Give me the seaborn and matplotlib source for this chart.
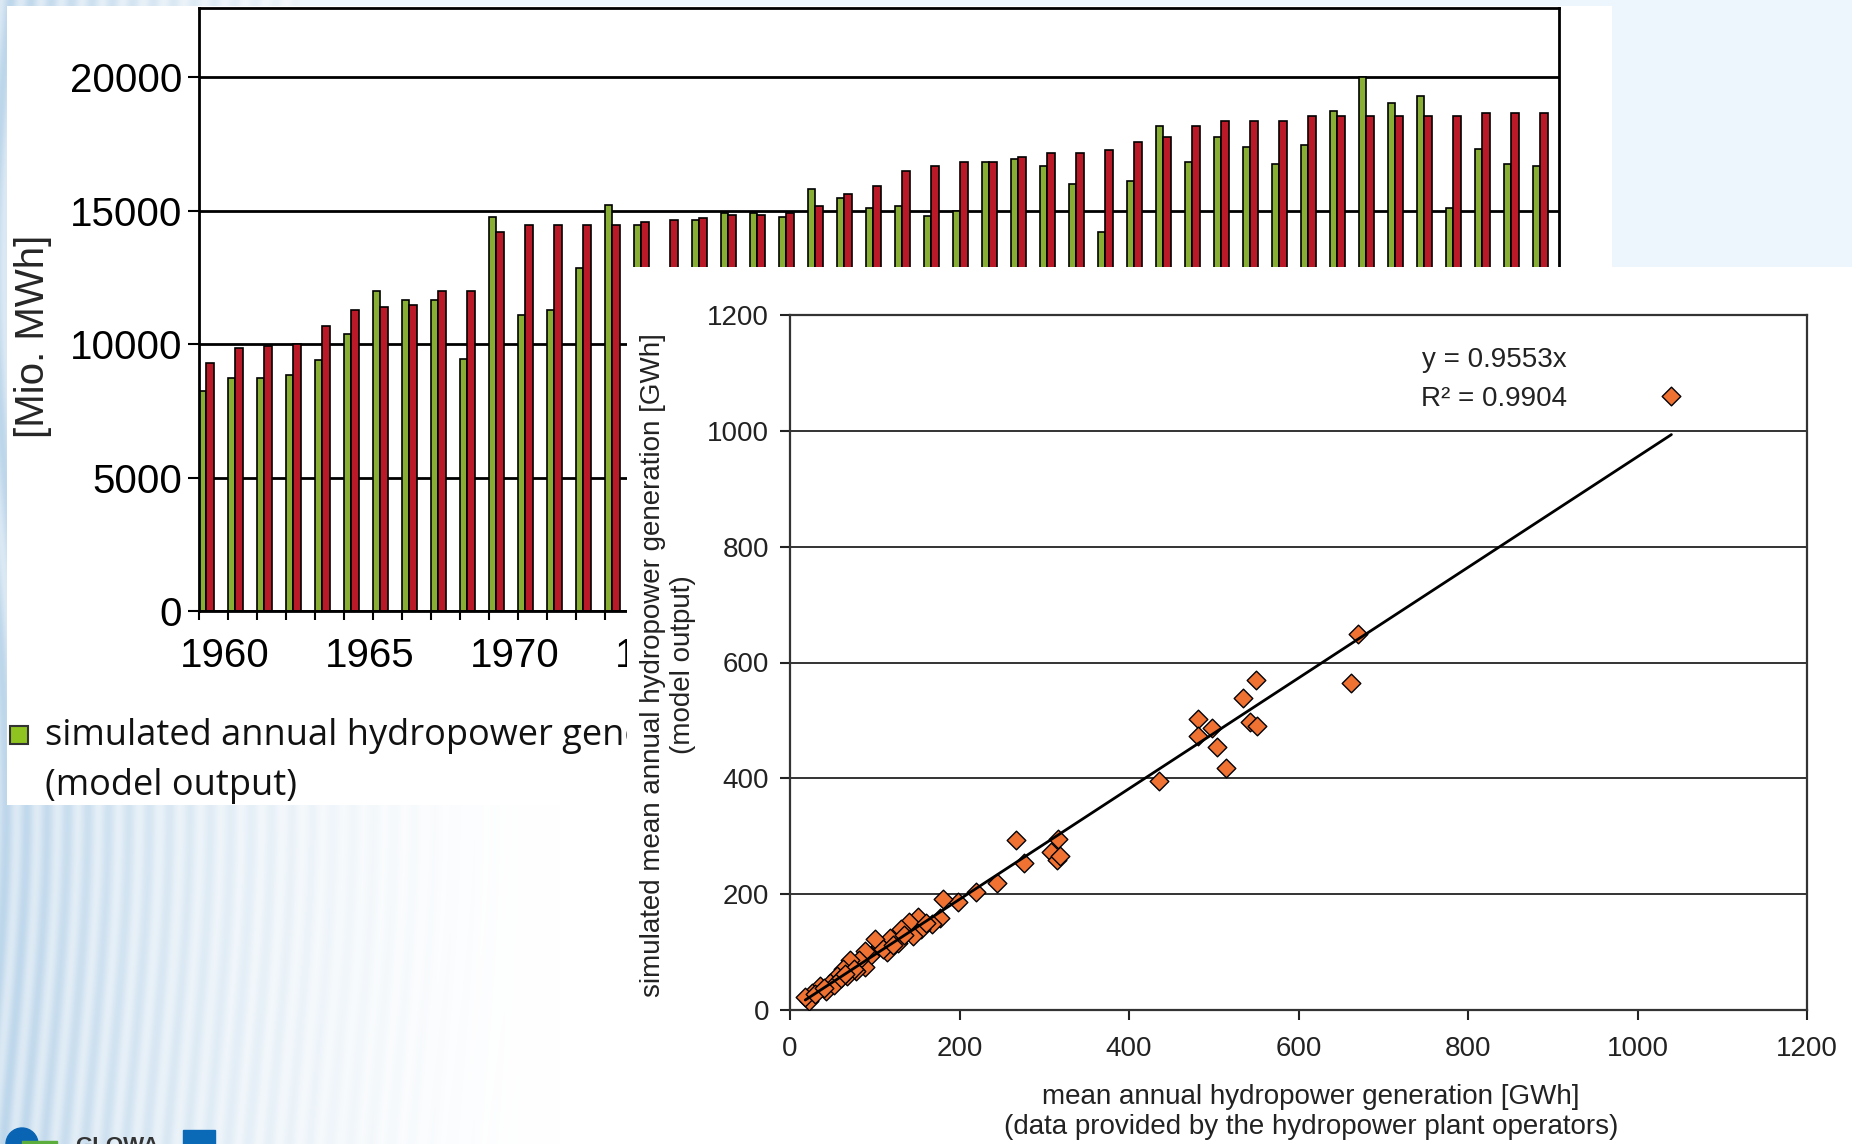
import numpy as np
import pandas as pd
import matplotlib
matplotlib.use("Agg")
import matplotlib.pyplot as plt
import matplotlib.transforms as mtransforms
import seaborn as sns
from matplotlib.patches import Rectangle, Circle

# ---------------- data ----------------
years = list(range(1959, 2006))
simulated_gen = [8250, 8750, 8750, 8850, 9400, 10400, 12000, 11650, 11650, 9450,
                 14750, 11100, 11300, 12850, 15200, 14480, np.nan, 14650, 14900, 14900,
                 14750, 15820, 15480, 15100, 15180, 14820, 15000, 16820, 16930, 16670,
                 16020, 14190, 16120, 18190, 16820, 17750, 17380, 16750, 17480, 18740,
                 20000, 19030, 19290, 15120, 17300, 16750, 16680]
observed_gen = [9300, 9850, 9950, 10000, 10670, 11300, 11380, 11460, 12000, 12000,
                14200, 14470, 14470, 14470, 14470, 14570, 14640, 14740, 14830, 14830,
                14920, 15180, 15640, 15930, 16480, 16670, 16820, 16820, 17010, 17180,
                17180, 17290, 17560, 17750, 18190, 18380, 18380, 18380, 18560, 18560,
                18560, 18560, 18560, 18560, 18660, 18660, 18660]
series_names = ["simulated", "observed"]
series_colors = ["#8fc31f", "#d40012"]
bar_yticks = [0, 5000, 10000, 15000, 20000]
bar_xlabels = [1960, 1965, 1970, 1975]
legend_lines = ["simulated annual hydropower generation", "(model output)"]

plant_observed = [1040, 670, 662, 550, 535, 482, 498, 482, 543, 551, 504, 515, 435,
                  267, 316, 308, 315, 319,
                  276, 244, 219, 198, 180, 177, 168, 151, 155, 145, 140, 131, 127, 118,
                  114, 106, 100, 94, 89, 88, 82, 78, 71, 67, 63, 55, 47, 43, 35, 26, 22, 18,
                  30, 52, 60, 75, 110, 122, 135, 160, 40, 65]
plant_simulated = [1060, 650, 565, 570, 539, 502, 487, 473, 498, 490, 454, 418, 395,
                   293, 296, 273, 259, 266,
                   254, 219, 203, 187, 191, 158, 148, 160, 139, 128, 152, 139, 116, 125,
                   100, 110, 123, 93, 102, 75, 87, 67, 87, 58, 70, 58, 46, 32, 41, 29, 15, 23,
                   28, 44, 55, 70, 105, 112, 130, 150, 38, 62]
trend_slope = 0.9553
r_squared = 0.9904
scatter_ticks = [0, 200, 400, 600, 800, 1000, 1200]

# ---------------- setup ----------------
sns.set_style("white")
plt.rcParams["font.family"] = ["Liberation Sans", "DejaVu Sans"]

W, H = 1852, 1144
fig = plt.figure(figsize=(W / 100, H / 100), dpi=100)

# background
bg = fig.add_axes([0, 0, 1, 1])
bg.set_zorder(0)
xs = np.arange(W)[None, :]
ys = np.arange(H)[:, None]
fade = np.clip(1 - xs / 560.0, 0, 1) ** 1.6
streak = 0.55 + 0.45 * np.sin(xs / 6.5 + 2.5 * np.sin(ys / 170.0)) ** 2
amt = fade * streak
blue = np.array([0.74, 0.84, 0.92])
img = 1 - amt[..., None] * (1 - blue)
light = np.array([0.933, 0.965, 0.996])
img[:6, 300:] = light
img[:267, 1612:] = light
bg.imshow(img, extent=[0, W, H, 0], aspect="auto", interpolation="bilinear")
bg.set_xlim(0, W)
bg.set_ylim(H, 0)
bg.axis("off")
bg.add_patch(Rectangle((7, 6), 1605, 799, fc="white", ec="none", zorder=2))

# legend (partly hidden by inset panel)
bg.add_patch(Rectangle((10, 726), 18, 18, fc=series_colors[0], ec="#333333", lw=1.5, zorder=3))
bg.text(45, 736, legend_lines[0], fontsize=26, family=["Open Sans", "DejaVu Sans"],
        va="center", ha="left", color="#111111", zorder=3)
bg.text(45, 786, legend_lines[1], fontsize=26, family=["Open Sans", "DejaVu Sans"],
        va="center", ha="left", color="#111111", zorder=3)

# ---------------- bar chart ----------------
ax1 = fig.add_axes([199 / W, 1 - 611 / H, 1360 / W, 603 / H])
ax1.set_zorder(1)
df = pd.DataFrame({
    "x": [y + 0.25 for y in years] * 2,
    "value": simulated_gen + observed_gen,
    "series": [series_names[0]] * len(years) + [series_names[1]] * len(years),
})
sns.barplot(data=df, x="x", y="value", hue="series", hue_order=series_names,
            palette=dict(zip(series_names, series_colors)), native_scale=True,
            width=0.5, edgecolor="black", linewidth=1.2, errorbar=None,
            legend=False, ax=ax1)
ax1.set_facecolor("white")
ax1.set_xlim(1959, 1959 + 1360 / 29.0)
ax1.set_ylim(0, 22600)
ax1.set_yticks(bar_yticks)
ax1.set_yticklabels([str(v) for v in bar_yticks])
ax1.set_xticks(years)
ax1.set_xticklabels([str(y) if y in bar_xlabels else "" for y in years])
ax1.yaxis.grid(True, color="black", lw=2)
ax1.xaxis.grid(False)
ax1.set_axisbelow(True)
for sp in ax1.spines.values():
    sp.set_color("black")
    sp.set_linewidth(2)
    sp.set_visible(True)
ax1.tick_params(axis="x", length=6.5, width=1.5, direction="out", labelsize=29, pad=12,
                bottom=True, colors="black")
ax1.tick_params(axis="y", length=8, width=1.5, direction="out", labelsize=29, pad=4,
                left=True, colors="black")
shift = mtransforms.ScaledTranslation(-3 / 100, 0, fig.dpi_scale_trans)
for lab in ax1.get_xticklabels():
    lab.set_transform(lab.get_transform() + shift)
ax1.set_xlabel("")
ax1.set_ylabel("[Mio. MWh]", fontsize=29)
ax1.yaxis.set_label_coords((33 - 199) / 1360, (611 - 336) / 603)
ax1.yaxis.label.set_va("center")

# ---------------- inset panel ----------------
ov = fig.add_axes([0, 0, 1, 1])
ov.set_zorder(3)
ov.set_xlim(0, W)
ov.set_ylim(H, 0)
ov.axis("off")
ov.add_patch(Rectangle((627, 267), W - 627, H - 267, fc="white", ec="none"))
# logo fragment
ov.add_patch(Circle((22, 1144), 16, color="#0a64b4"))
ov.add_patch(Rectangle((22, 1141), 35, 4, color="#5cae3c"))
ov.text(75, 1136, "GLOWA", fontsize=16, fontweight="bold", color="#333333", va="top", ha="left")
ov.add_patch(Rectangle((183, 1130), 32, 15, color="#0a6ab8"))

# ---------------- scatter ----------------
ax2 = fig.add_axes([790 / W, 1 - 1010 / H, 1017 / W, 695 / H])
ax2.set_zorder(4)
ax2.set_facecolor("white")
sns.scatterplot(x=plant_observed, y=plant_simulated, marker="D", s=90, color="#f07232",
                edgecolor="black", linewidth=1, ax=ax2, zorder=3)
tx = [min(plant_observed), max(plant_observed)]
sns.lineplot(x=tx, y=[trend_slope * v for v in tx], color="black", lw=2, ax=ax2, zorder=4)
ax2.set_xlim(0, 1200)
ax2.set_ylim(0, 1200)
ax2.set_xticks(scatter_ticks)
ax2.set_yticks(scatter_ticks)
ax2.yaxis.grid(True, color="#333333", lw=1.4)
ax2.xaxis.grid(False)
ax2.set_axisbelow(True)
for sp in ax2.spines.values():
    sp.set_color("#333333")
    sp.set_linewidth(1.6)
    sp.set_visible(True)
ax2.tick_params(axis="both", length=7, width=1.5, direction="out", labelsize=20,
                colors="#222222", bottom=True, left=True)
ax2.tick_params(axis="x", pad=12)
ax2.tick_params(axis="y", pad=8)
ax2.set_xlabel("mean annual hydropower generation [GWh]\n(data provided by the hydropower plant operators)",
               fontsize=20, color="#222222", linespacing=1.15)
ax2.xaxis.set_label_coords((1311 - 790) / 1017, -(1112 - 1010) / 695)
ax2.xaxis.label.set_va("center")
ax2.set_ylabel("simulated mean annual hydropower generation [GWh]\n(model output)",
               fontsize=20, color="#222222", linespacing=1.2)
ax2.yaxis.set_label_coords((668 - 790) / 1017, (1010 - 665) / 695)
ax2.yaxis.label.set_va("center")
ax2.text(831, 1122, f"y = {trend_slope}x", fontsize=20, ha="center", va="center", color="#222222")
ax2.text(831, 1055, f"R² = {r_squared}", fontsize=20, ha="center", va="center", color="#222222")

fig.savefig("out.png", dpi=100)
